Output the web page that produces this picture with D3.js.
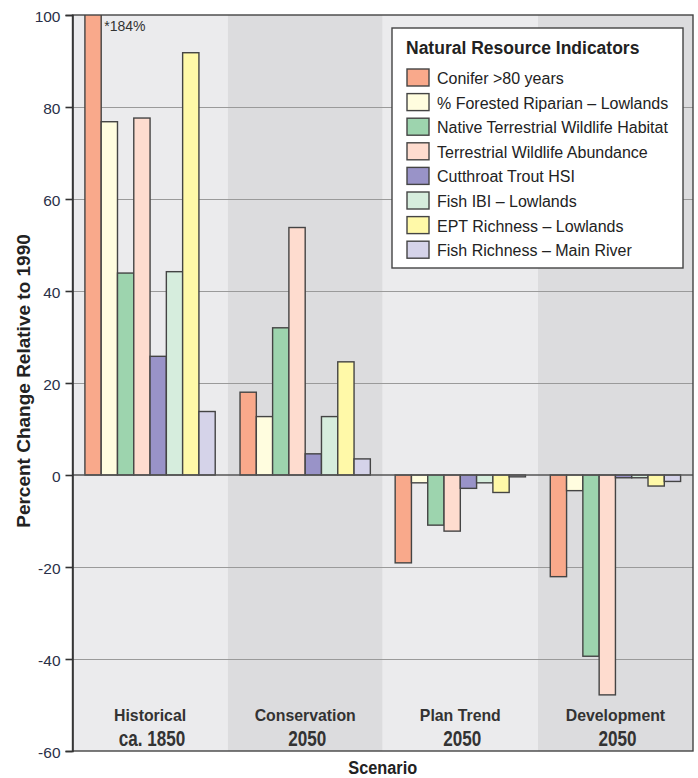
<!DOCTYPE html>
<html>
<head>
<meta charset="utf-8">
<script src="https://cdn.jsdelivr.net/npm/d3@7"></script>
<style>
  html, body { margin: 0; padding: 0; background: #ffffff; }
  svg { display: block; font-family: "Liberation Sans", Arial, sans-serif; }
</style>
</head>
<body>
<svg id="chart" width="698" height="778"></svg>
<script>
// ---- Data ----
const scenarios = ["Historical", "Conservation", "Plan Trend", "Development"];
const scenarioSub = ["ca. 1850", "2050", "2050", "2050"];
const indicators = [
  "Conifer >80 years",
  "% Forested Riparian \u2013 Lowlands",
  "Native Terrestrial Wildlife Habitat",
  "Terrestrial Wildlife Abundance",
  "Cutthroat Trout HSI",
  "Fish IBI \u2013 Lowlands",
  "EPT Richness \u2013 Lowlands",
  "Fish Richness \u2013 Main River"
];
const indicatorColors = ["#f9a98b", "#fffddf", "#9dd4ae", "#fedccf", "#9993c8", "#d6eddd", "#fff9a8", "#d5d3e9"];
// values per indicator, one per scenario (Historical, Conservation, Plan Trend, Development)
const coniferValues      = [184, 18.0, -19.1, -22.1];
const riparianValues     = [76.8, 12.7, -1.7, -3.4];
const habitatValues      = [43.9, 32.0, -10.9, -39.4];
const abundanceValues    = [77.6, 53.8, -12.2, -47.8];
const troutValues        = [25.8, 4.6, -2.9, -0.6];
const fishIbiValues      = [44.2, 12.7, -1.7, -0.6];
const eptValues          = [91.8, 24.6, -3.8, -2.4];
const fishRichnessValues = [13.8, 3.5, -0.4, -1.4];
const seriesValues = [coniferValues, riparianValues, habitatValues, abundanceValues,
                      troutValues, fishIbiValues, eptValues, fishRichnessValues];
const yTicks = [-60, -40, -20, 0, 20, 40, 60, 80, 100];
const truncatedNote = "*184%";

// ---- Layout ----
const svg = d3.select("#chart");
const pLeft = 72.5, pRight = 693, pTop = 15, pBottom = 751;

const x0 = d3.scaleBand().domain(scenarios).range([pLeft, pRight])
  .paddingInner(0.16).paddingOuter(0.08);
const step = x0.step();
const x1 = d3.scaleBand().domain(d3.range(indicators.length)).range([0, x0.bandwidth()]);
const y = d3.scaleLinear().domain([-60, 100]).range([pBottom, pTop]);

// background bands
const bandColors = ["#ebebed", "#dcdcde", "#ebebed", "#dcdcde"];
svg.append("g").selectAll("rect").data(scenarios).join("rect")
  .attr("x", (d, i) => pLeft + i * step)
  .attr("y", pTop)
  .attr("width", step)
  .attr("height", pBottom - pTop)
  .attr("fill", (d, i) => bandColors[i]);

// gridlines
svg.append("g").selectAll("line").data(yTicks.filter(t => t !== 0 && t !== -60 && t !== 100)).join("line")
  .attr("x1", pLeft).attr("x2", pRight)
  .attr("y1", d => y(d) + 0.5).attr("y2", d => y(d) + 0.5)
  .attr("stroke", "#9a9a9a").attr("stroke-width", 1.2);

// clip
svg.append("clipPath").attr("id", "plotclip").append("rect")
  .attr("x", pLeft).attr("y", pTop).attr("width", pRight - pLeft).attr("height", pBottom - pTop);

// bars
const barData = [];
scenarios.forEach((s, si) => {
  seriesValues.forEach((vals, ii) => {
    barData.push({ scenario: s, idx: ii, value: vals[si] });
  });
});
svg.append("g").attr("clip-path", "url(#plotclip)")
  .selectAll("rect").data(barData).join("rect")
  .attr("x", d => x0(d.scenario) + x1(d.idx))
  .attr("width", x1.bandwidth())
  .attr("y", d => y(Math.max(0, d.value)))
  .attr("height", d => Math.abs(y(d.value) - y(0)))
  .attr("fill", d => indicatorColors[d.idx])
  .attr("stroke", "#444")
  .attr("stroke-width", 1.4);

// zero line
svg.append("line")
  .attr("x1", pLeft).attr("x2", pRight)
  .attr("y1", y(0)).attr("y2", y(0))
  .attr("stroke", "#555").attr("stroke-width", 1.6);

// frame
svg.append("rect")
  .attr("x", pLeft).attr("y", pTop).attr("width", pRight - pLeft).attr("height", pBottom - pTop)
  .attr("fill", "none").attr("stroke", "#444").attr("stroke-width", 1.4);

// y axis
const yAxis = d3.axisLeft(y).tickValues(yTicks).tickSize(7).tickPadding(5).tickFormat(d => String(d));
const gy = svg.append("g").attr("transform", `translate(${pLeft},0)`).call(yAxis);
gy.select(".domain").attr("stroke", "#333").attr("stroke-width", 1.6);
gy.selectAll(".tick line").attr("stroke", "#333").attr("stroke-width", 1.6);
gy.selectAll(".tick text").attr("fill", "#2a3048").attr("font-size", 15.5).attr("dy", "0.42em")
  .attr("font-family", "'Liberation Sans', Arial, sans-serif");

// y title
svg.append("text")
  .attr("transform", `translate(30,381) rotate(-90)`)
  .attr("text-anchor", "middle")
  .attr("font-weight", "bold").attr("font-size", 19).attr("fill", "#222")
  .text("Percent Change Relative to 1990");

// truncated note
svg.append("text")
  .attr("x", x0(scenarios[0]) + x1(0) + x1.bandwidth() + 3)
  .attr("y", 31)
  .attr("font-size", 14).attr("fill", "#333")
  .text(truncatedNote);

// scenario labels (condensed via horizontal scale)
const lab = svg.append("g");
lab.selectAll("text.s1").data(scenarios).join("text")
  .attr("class", "s1")
  .attr("transform", d => `translate(${x0(d) + x0.bandwidth() / 2},721) scale(0.96,1)`)
  .attr("text-anchor", "middle").attr("font-weight", "bold").attr("font-size", 16.5).attr("fill", "#333")
  .text(d => d);
lab.selectAll("text.s2").data(scenarios).join("text")
  .attr("class", "s2")
  .attr("transform", d => `translate(${x0(d) + x0.bandwidth() / 2 + 2},746) scale(0.76,1)`)
  .attr("text-anchor", "middle").attr("font-weight", "bold").attr("font-size", 22.5).attr("fill", "#333")
  .text((d, i) => scenarioSub[i]);

svg.append("text")
  .attr("transform", `translate(${(pLeft + pRight) / 2},774) scale(0.86,1)`)
  .attr("text-anchor", "middle").attr("font-weight", "bold").attr("font-size", 19).attr("fill", "#222")
  .text("Scenario");

// legend
const lg = svg.append("g").attr("transform", "translate(392,28)");
lg.append("rect").attr("x", 0).attr("y", 0).attr("width", 291).attr("height", 240)
  .attr("fill", "#fff").attr("stroke", "#444").attr("stroke-width", 1.4);
lg.append("text").attr("x", 14).attr("y", 26)
  .attr("font-weight", "bold").attr("font-size", 17.5).attr("fill", "#222")
  .text("Natural Resource Indicators");
const items = lg.selectAll("g.item").data(indicators).join("g").attr("class", "item")
  .attr("transform", (d, i) => `translate(15,${41 + i * 24.6})`);
items.append("rect").attr("width", 22).attr("height", 17)
  .attr("fill", (d, i) => indicatorColors[i]).attr("stroke", "#444").attr("stroke-width", 1.4);
items.append("text").attr("x", 30).attr("y", 15)
  .attr("font-size", 16).attr("fill", "#222")
  .text(d => d);
</script>
</body>
</html>
